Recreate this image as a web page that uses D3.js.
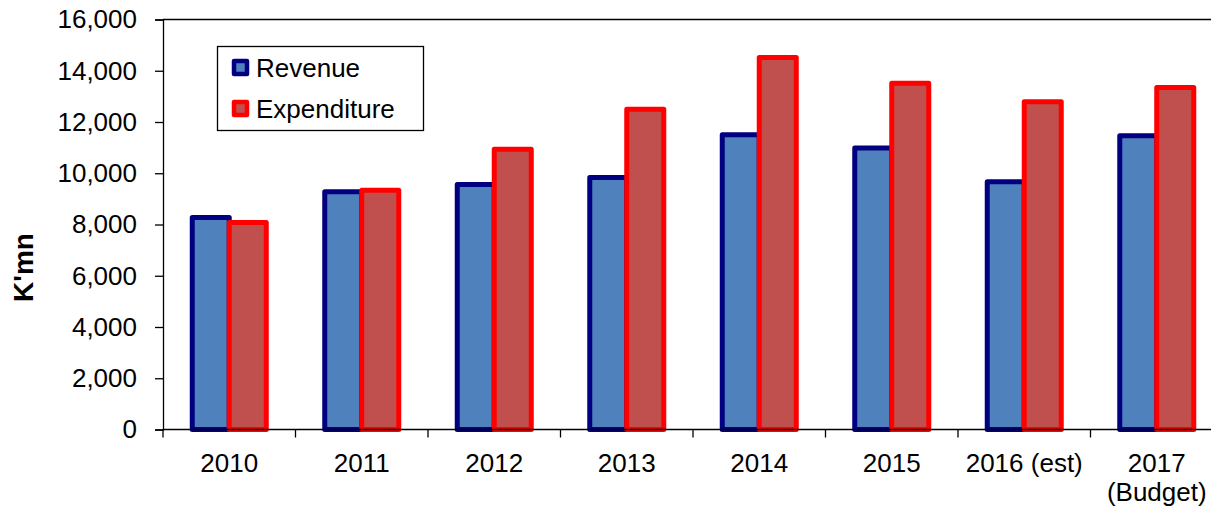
<!DOCTYPE html>
<html>
<head>
<meta charset="utf-8">
<script src="https://cdn.jsdelivr.net/npm/d3@7"></script>
<style>
  body { margin: 0; background: #fff; }
  svg { display: block; font-family: "Liberation Sans", Arial, sans-serif; }
</style>
</head>
<body>
<div id="chart"></div>
<script>
// Revenue vs expenditure, K'mn
const categories = ['2010', '2011', '2012', '2013', '2014', '2015', '2016 (est)', '2017\n(Budget)'];
const revenue = [8270, 9280, 9560, 9830, 11500, 10990, 9670, 11460];
const expenditure = [8080, 9340, 10940, 12500, 14520, 13510, 12790, 13350];
const yTicks = [0, 2000, 4000, 6000, 8000, 10000, 12000, 14000, 16000];

const width = 1211, height = 509;
const margin = { top: 19.5, right: -12, bottom: 79.5, left: 163 };
const chartWidth = width - margin.left - margin.right;
const chartHeight = height - margin.top - margin.bottom;

const svg = d3.select('#chart').append('svg')
    .attr('width', width)
    .attr('height', height);

const g = svg.append('g')
    .attr('transform', `translate(${margin.left},${margin.top})`);

const x = d3.scaleBand()
    .domain(categories)
    .range([0, chartWidth]);

const y = d3.scaleLinear()
    .domain([0, 16000])
    .range([chartHeight, 0]);

const barW = 37;

// bars
const series = [
    { name: 'Revenue', values: revenue, fill: '#4F81BD', stroke: '#000080', off: -barW },
    { name: 'Expenditure', values: expenditure, fill: '#C0504D', stroke: '#FF0000', off: 0 }
];

series.forEach(s => {
    g.selectAll(null)
        .data(categories)
        .enter()
        .append('rect')
        .attr('x', d => x(d) + x.bandwidth() / 2 + s.off)
        .attr('y', (d, i) => y(s.values[i]))
        .attr('width', barW)
        .attr('height', (d, i) => chartHeight - y(s.values[i]))
        .attr('fill', s.fill)
        .attr('stroke', s.stroke)
        .attr('stroke-width', 5)
        .attr('stroke-linejoin', 'round');
});

// top border
g.append('line')
    .attr('x1', 0).attr('x2', chartWidth)
    .attr('y1', 0).attr('y2', 0)
    .attr('stroke', '#000').attr('stroke-width', 1.3);

// y axis
const yAxis = g.append('g')
    .call(d3.axisLeft(y).tickValues(yTicks).tickSize(8).tickPadding(18).tickFormat(d3.format(',')));
yAxis.selectAll('text')
    .style('font-size', '26px')
    .attr('fill', '#000');
yAxis.selectAll('line, path').attr('stroke', '#000').attr('stroke-width', 1.3);

// x axis (ticks at category boundaries)
const xAxis = g.append('g')
    .attr('transform', `translate(0,${chartHeight})`);
xAxis.append('line')
    .attr('x1', 0).attr('x2', chartWidth)
    .attr('stroke', '#000').attr('stroke-width', 1.3);
xAxis.selectAll('.tick')
    .data(categories)
    .enter()
    .append('line')
    .attr('x1', d => x(d)).attr('x2', d => x(d))
    .attr('y1', 0).attr('y2', 8)
    .attr('stroke', '#000').attr('stroke-width', 1.3);

xAxis.selectAll('.lbl')
    .data(categories)
    .enter()
    .append('text')
    .attr('text-anchor', 'middle')
    .attr('x', d => x(d) + x.bandwidth() / 2)
    .attr('y', 42.5)
    .style('font-size', '26px')
    .attr('fill', '#000')
    .each(function(d) {
        const lines = d.split('\n');
        d3.select(this).selectAll('tspan')
            .data(lines)
            .enter()
            .append('tspan')
            .attr('x', x(d) + x.bandwidth() / 2)
            .attr('dy', (l, i) => i === 0 ? 0 : 29)
            .text(l => l);
    });

// y title
svg.append('text')
    .attr('transform', 'translate(33,267.5) rotate(-90)')
    .attr('text-anchor', 'middle')
    .style('font-size', '28px')
    .style('font-weight', 'bold')
    .text("K'mn");

// legend
const legend = svg.append('g');
legend.append('rect')
    .attr('x', 217.5).attr('y', 46.5)
    .attr('width', 206).attr('height', 84)
    .attr('fill', '#fff')
    .attr('stroke', '#000').attr('stroke-width', 1.3);

series.forEach((s, i) => {
    const cy = 67.5 + i * 41;
    legend.append('rect')
        .attr('x', 234).attr('y', cy - 6.5)
        .attr('width', 13).attr('height', 13)
        .attr('fill', s.fill)
        .attr('stroke', s.stroke)
        .attr('stroke-width', 4.5)
        .attr('stroke-linejoin', 'round');
    legend.append('text')
        .attr('x', 256).attr('y', cy + 9)
        .style('font-size', '26px')
        .text(s.name);
});
</script>
</body>
</html>
